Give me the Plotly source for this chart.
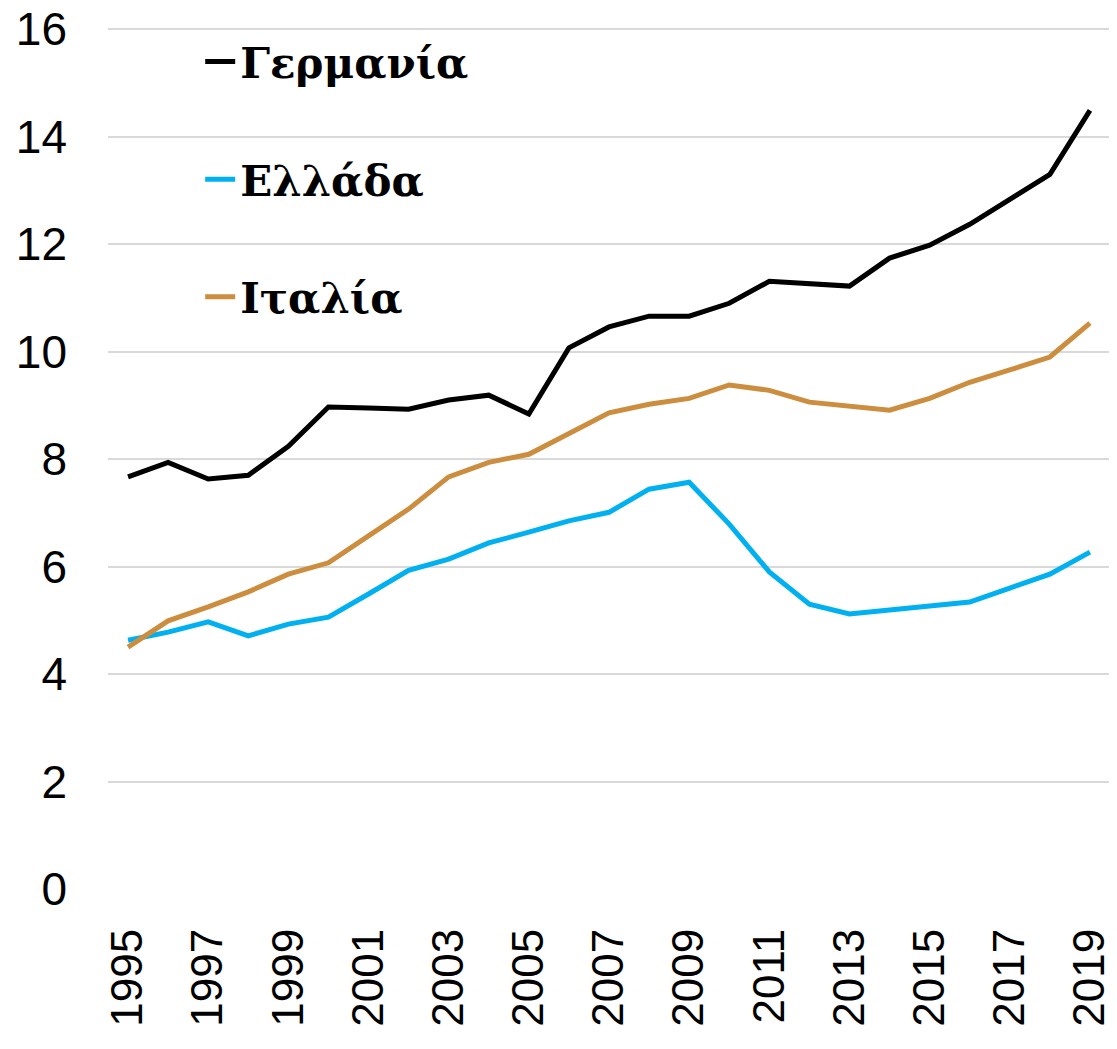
import plotly.graph_objects as go

years = list(range(1995, 2020))
germany = [7.67, 7.94, 7.63, 7.70, 8.24, 8.97, 8.95, 8.93, 9.10, 9.19, 8.84, 10.07, 10.46,
           10.66, 10.66, 10.90, 11.31, 11.26, 11.22, 11.74, 11.98, 12.37, 12.84, 13.30, 14.49]
greece = [4.63, 4.78, 4.97, 4.71, 4.93, 5.06, 5.49, 5.93, 6.14, 6.44, 6.64, 6.85, 7.01,
          7.44, 7.57, 6.79, 5.90, 5.30, 5.12, 5.19, 5.25, 5.34, 5.60, 5.86, 6.27]
italy = [4.50, 4.99, 5.25, 5.53, 5.86, 6.07, 6.57, 7.07, 7.67, 7.94, 8.09, 8.47, 8.86,
         9.02, 9.13, 9.38, 9.28, 9.06, 8.99, 8.91, 9.13, 9.43, 9.66, 9.90, 10.53]
names = ["Γερμανία", "Ελλάδα", "Ιταλία"]
colors = ["#000000", "#00b0f0", "#cc8e3e"]
x_ticks = list(range(1995, 2020, 2))
y_ticks = list(range(0, 17, 2))

fig = go.Figure()
for i, (name, vals, col) in enumerate(zip(names, [germany, greece, italy], colors)):
    fig.add_trace(go.Scatter(x=years, y=vals, mode="lines", name=name,
                             legendgroup=f"g{i}",
                             line=dict(color=col, width=5)))

fig.update_layout(
    width=1117, height=1049,
    margin=dict(l=100, r=15, t=18, b=168),
    plot_bgcolor="white", paper_bgcolor="white",
    font=dict(family="Liberation Sans, Arial", size=44, color="black"),
    showlegend=True,
    legend=dict(x=0.092, y=0.998, xanchor="left", yanchor="top",
                font=dict(family="DejaVu Serif", size=42, color="black", weight="bold"),
                tracegroupgap=60, bgcolor="rgba(0,0,0,0)"),
    xaxis=dict(range=[1994.5, 2019.5], tickmode="array", tickvals=x_ticks,
               ticktext=[str(t) for t in x_ticks], tickangle=-90,
               showgrid=False, zeroline=False, showline=False, ticks="",
               automargin=False, ticklabelstandoff=30, ticklabeloverflow="allow"),
    yaxis=dict(range=[0, 16.06], tickmode="array", tickvals=y_ticks,
               ticktext=[str(t) for t in y_ticks], tickfont=dict(size=46),
               showgrid=True, gridcolor="#d9d9d9", gridwidth=2,
               zeroline=False, showline=False, ticks="",
               automargin=False, ticklabelstandoff=40, ticklabeloverflow="allow"),
)
fig.write_html("out.html")
